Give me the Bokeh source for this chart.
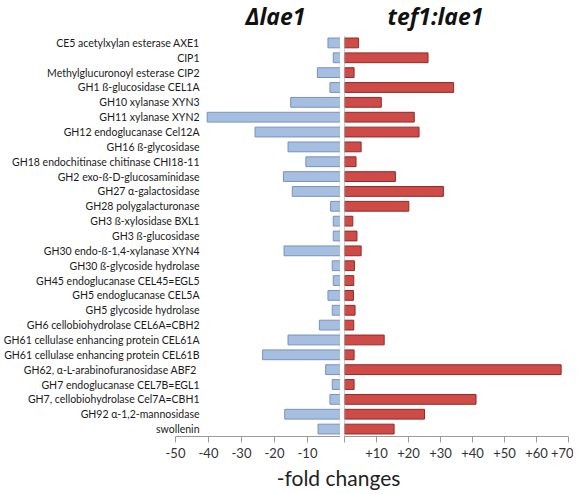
from bokeh.plotting import figure
from bokeh.models import FactorRange, Range1d, FixedTicker, Span, Label
from bokeh.layouts import column, row
from bokeh.embed import file_html
from bokeh.resources import INLINE

categories = [
    "CE5 acetylxylan esterase AXE1",
    "CIP1",
    "Methylglucuronoyl esterase CIP2",
    "GH1 ß-glucosidase CEL1A",
    "GH10 xylanase XYN3",
    "GH11 xylanase XYN2",
    "GH12 endoglucanase Cel12A",
    "GH16 ß-glycosidase",
    "GH18 endochitinase chitinase CHI18-11",
    "GH2 exo-ß-D-glucosaminidase",
    "GH27 α-galactosidase",
    "GH28 polygalacturonase",
    "GH3 ß-xylosidase BXL1",
    "GH3 ß-glucosidase",
    "GH30 endo-ß-1,4-xylanase XYN4",
    "GH30 ß-glycoside hydrolase",
    "GH45 endoglucanase CEL45=EGL5",
    "GH5 endoglucanase CEL5A",
    "GH5 glycoside hydrolase",
    "GH6 cellobiohydrolase CEL6A=CBH2",
    "GH61 cellulase enhancing protein CEL61A",
    "GH61 cellulase enhancing protein CEL61B",
    "GH62,  α-L-arabinofuranosidase ABF2",
    "GH7 endoglucanase CEL7B=EGL1",
    "GH7, cellobiohydrolase Cel7A=CBH1",
    "GH92 α-1,2-mannosidase",
    "swollenin",
]

dlae1 = [-3.8, -2.2, -7.0, -3.2, -15.1, -40.4, -25.9, -15.9, -10.5, -17.3,
         -14.6, -3.0, -2.2, -2.2, -17.1, -2.5, -2.2, -3.8, -2.5, -6.4,
         -15.9, -23.6, -4.5, -2.5, -3.2, -16.9, -6.8]

tef1_lae1 = [4.4, 26.1, 3.0, 34.1, 11.5, 21.8, 23.3, 5.2, 3.6, 15.9,
             30.9, 20.1, 2.6, 3.9, 5.2, 3.1, 2.9, 2.8, 3.3, 2.9,
             12.4, 3.0, 67.7, 3.0, 41.1, 25.0, 15.5]

left_ticks = [-50, -40, -30, -20, -10, 0]
left_tick_labels = ["-50", "-40", "-30", "-20", "-10", ""]
right_ticks = [0, 10, 20, 30, 40, 50, 60, 70]
right_tick_labels = ["", "+10", "+20", "+30", "+40", "+50", "+60", "+70"]

left_title = "Δlae1"
right_title = "tef1:lae1"
x_label = "-fold changes"

FONT = "Lato"
TITLE_FONT = "Open Sans"
yr = FactorRange(factors=categories[::-1], range_padding=0)


def text_strip(width, height):
    s = figure(width=width, height=height, x_range=Range1d(0, width),
               y_range=Range1d(0, height), title=None,
               output_backend="svg", toolbar_location=None,
               x_axis_location=None, y_axis_location=None, min_border=0)
    s.xgrid.visible = False
    s.ygrid.visible = False
    s.outline_line_color = None
    return s


def style_common(p, ticks, tick_labels):
    p.xgrid.visible = False
    p.ygrid.visible = False
    p.outline_line_color = None
    p.background_fill_color = "white"
    p.border_fill_color = "white"
    ax = p.xaxis[0]
    ax.ticker = FixedTicker(ticks=ticks)
    ax.major_label_overrides = {t: l for t, l in zip(ticks, tick_labels)}
    ax.axis_line_color = "#9a9a9a"
    ax.major_tick_line_color = "#9a9a9a"
    ax.major_tick_out = 6
    ax.major_tick_in = 0
    ax.minor_tick_line_color = None
    ax.major_label_standoff = 5
    ax.major_label_text_font = FONT
    ax.major_label_text_font_size = "13px"
    ax.major_label_text_color = "#333333"


# titles strip
pt = text_strip(573, 35)
for txt, xr in ((left_title, 305), (right_title, 483)):
    pt.add_layout(Label(x=xr, y=20, text=txt, text_align="right",
                        text_baseline="alphabetic", text_font=TITLE_FONT,
                        text_font_size="23px", text_font_style="bold italic",
                        text_color="#111111"))

pl = figure(width=340, height=427, y_range=yr, x_range=Range1d(-50, 0),
            output_backend="svg", toolbar_location=None, title=None,
            min_border_left=174, min_border_right=0,
            min_border_top=0, min_border_bottom=26)
pl.hbar(y=categories, left=0, right=dlae1, height=0.66,
        fill_color="#a6bee0", line_color="#7792bd", line_width=1)
pl.add_layout(Span(location=0, dimension="height", line_color="#aab9cf", line_width=1.5))
style_common(pl, left_ticks, left_tick_labels)
ya = pl.yaxis[0]
ya.axis_line_color = None
ya.major_tick_line_color = None
ya.minor_tick_line_color = None
ya.major_label_standoff = -30
ya.major_label_text_font = FONT
ya.major_label_text_font_size = "10.5px"
ya.major_label_text_color = "#1a1a1a"

pr = figure(width=233, height=427, y_range=yr, x_range=Range1d(0, 70),
            output_backend="svg", toolbar_location=None, y_axis_location=None,
            title=None, min_border_left=4, min_border_right=5,
            min_border_top=0, min_border_bottom=26)
pr.hbar(y=categories, left=0, right=tef1_lae1, height=0.66,
        fill_color="#cf4b48", line_color="#8e2b29", line_width=1)
pr.add_layout(Span(location=0, dimension="height", line_color="#9a9a9a", line_width=1.2))
style_common(pr, right_ticks, right_tick_labels)

pb = text_strip(573, 30)
pb.add_layout(Label(x=338, y=15, text=x_label, text_align="center",
                    text_baseline="alphabetic", text_font=FONT,
                    text_font_size="21px", text_color="#222222"))

layout = column(pt, row(pl, pr), pb)
open("out.html", "w").write(file_html(layout, INLINE))
